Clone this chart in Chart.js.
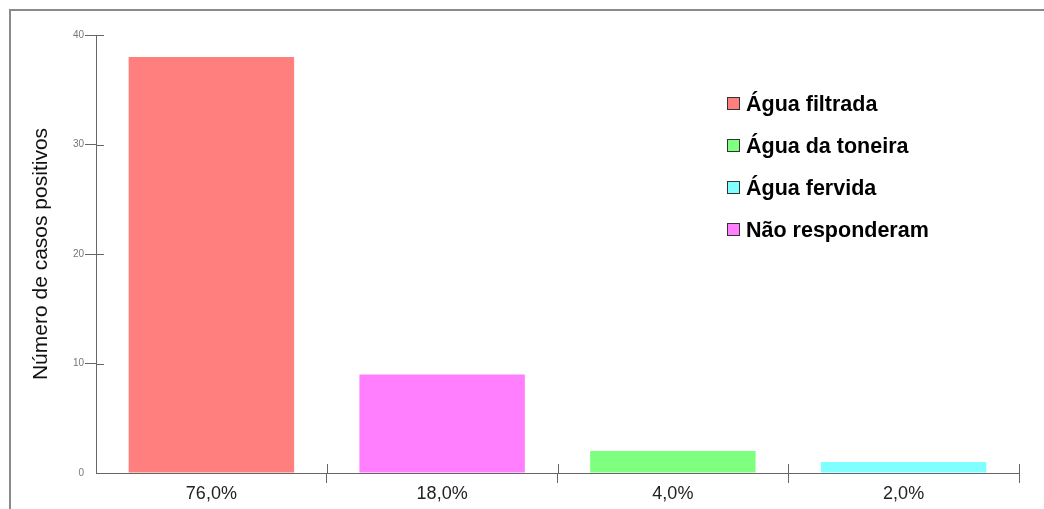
<!DOCTYPE html>
<html>
<head>
<meta charset="utf-8">
<script src="https://cdn.jsdelivr.net/npm/chart.js@4.4.1/dist/chart.umd.min.js"></script>
<style>
  html, body { margin: 0; padding: 0; background: #fff; }
  #wrap { width: 1044px; height: 509px; position: relative; }
</style>
</head>
<body>
<div id="wrap"><canvas id="chart"></canvas></div>
<script>
// casos positivos por tipo de água consumida (total 50)
const categories = ['76,0%', '18,0%', '4,0%', '2,0%'];
const casos = [38, 9, 2, 1];
const barColors = ['#ff7f7f', '#ff7fff', '#7fff7f', '#7fffff'];

const legendLabels = ['Água filtrada', 'Água da toneira', 'Água fervida', 'Não responderam'];
const legendColors = ['#ff7f7f', '#7fff7f', '#7fffff', '#ff7fff'];

const yTicks = [0, 10, 20, 30, 40];

// moldura cinza em volta do gráfico
const framePlugin = {
    id: 'frame',
    beforeDraw(chart) {
        const ctx = chart.ctx;
        ctx.save();
        ctx.strokeStyle = '#8a8a8a';
        ctx.lineWidth = 2;
        ctx.beginPath();
        ctx.moveTo(10, 1200);
        ctx.lineTo(10, 10);
        ctx.lineTo(2000, 10);
        ctx.stroke();
        ctx.restore();
    }
};

// marcas que atravessam os eixos (parte interna)
const innerTicks = {
    id: 'innerTicks',
    afterDraw(chart) {
        const { ctx, scales: { x, y } } = chart;
        ctx.save();
        ctx.strokeStyle = '#666';
        ctx.lineWidth = 1;
        ctx.beginPath();
        yTicks.forEach(v => {
            if (v === 0) return;
            const py = Math.round(y.getPixelForValue(v)) + 0.5;
            ctx.moveTo(x.left, py);
            ctx.lineTo(x.left + 8, py);
        });
        for (let i = 1; i <= categories.length; i++) {
            const px = Math.round(x.getPixelForValue(i - 0.5)) + 0.5;
            ctx.moveTo(px, y.bottom);
            ctx.lineTo(px, y.bottom - 9);
        }
        ctx.stroke();
        ctx.restore();
    }
};

// legenda desenhada dentro da área do gráfico
const boxLegend = {
    id: 'boxLegend',
    afterDraw(chart) {
        const ctx = chart.ctx;
        ctx.save();
        ctx.font = 'bold 21.5px "Liberation Sans", Arial, sans-serif';
        ctx.textBaseline = 'middle';
        legendLabels.forEach((label, i) => {
            const cy = 104 + i * 42;
            ctx.fillStyle = legendColors[i];
            ctx.fillRect(727.5, cy - 6.5, 12, 12);
            ctx.strokeStyle = '#333';
            ctx.lineWidth = 1;
            ctx.strokeRect(727.5, cy - 6.5, 12, 12);
            ctx.fillStyle = '#000';
            ctx.fillText(label, 746, cy + 1);
        });
        ctx.restore();
    }
};

const ctx = document.getElementById('chart').getContext('2d');
new Chart(ctx, {
    type: 'bar',
    data: {
        labels: categories,
        datasets: [{
            data: casos,
            backgroundColor: barColors,
            borderWidth: 0,
            barPercentage: 0.717,
            categoryPercentage: 1
        }]
    },
    options: {
        responsive: true,
        maintainAspectRatio: false,
        animation: false,
        layout: { padding: { top: 35, right: 25, bottom: 0, left: 0 } },
        plugins: {
            legend: { display: false },
            tooltip: { enabled: false }
        },
        scales: {
            x: {
                afterFit(scale) { scale.height = 36; },
                border: { color: '#666', width: 1 },
                grid: {
                    drawOnChartArea: false,
                    tickLength: 10,
                    color: c => (c.index === 0 ? 'rgba(0,0,0,0)' : '#666')
                },
                ticks: {
                    color: '#222',
                    padding: 0,
                    font: { family: '"Liberation Sans", Arial, sans-serif', size: 18 }
                }
            },
            y: {
                min: 0,
                max: 40,
                afterFit(scale) { scale.width = 96; },
                afterBuildTicks(scale) { scale.ticks = yTicks.map(v => ({ value: v })); },
                border: { color: '#666', width: 1 },
                grid: {
                    drawOnChartArea: false,
                    tickLength: 11,
                    color: c => (c.tick && c.tick.value === 0 ? 'rgba(0,0,0,0)' : '#666')
                },
                ticks: {
                    color: '#777',
                    padding: 1,
                    font: { family: '"Liberation Sans", Arial, sans-serif', size: 10 }
                },
                title: {
                    display: true,
                    text: 'Número de casos positivos',
                    color: '#111',
                    padding: { top: 29, bottom: 4 },
                    font: { family: '"Liberation Sans", Arial, sans-serif', size: 21 }
                }
            }
        }
    },
    plugins: [framePlugin, innerTicks, boxLegend]
});
</script>
</body>
</html>
